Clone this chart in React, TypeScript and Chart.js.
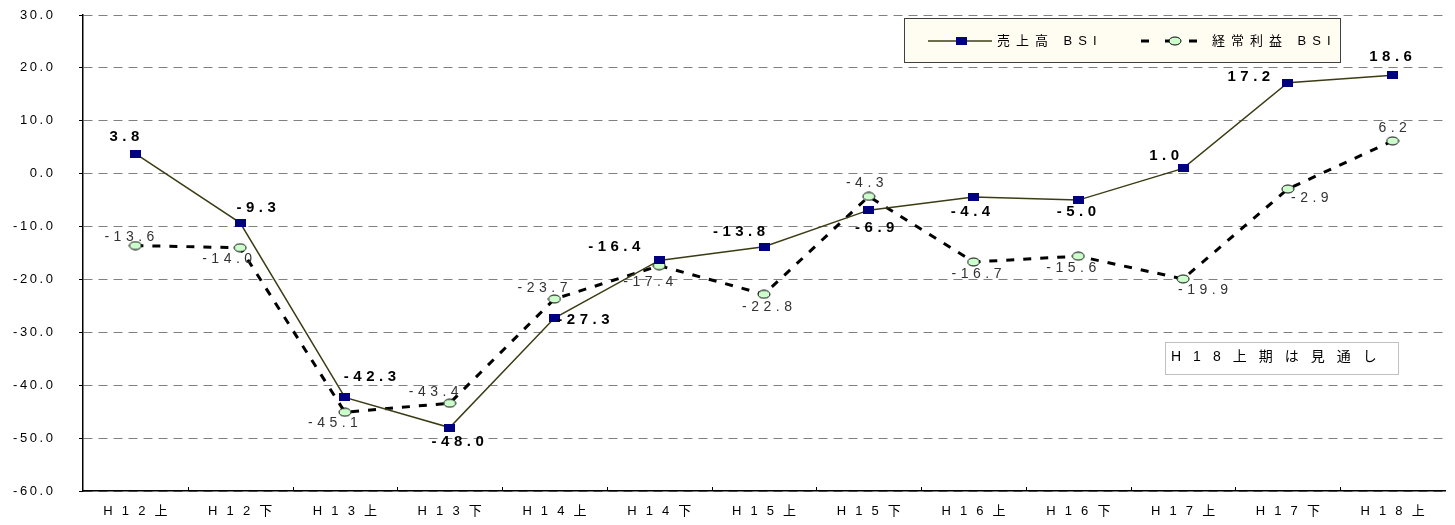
import React, { useEffect, useRef } from 'react';
import { Chart, registerables } from 'chart.js';

Chart.register(...registerables);

const categories = ['H12上', 'H12下', 'H13上', 'H13下', 'H14上', 'H14下', 'H15上', 'H15下', 'H16上', 'H16下', 'H17上', 'H17下', 'H18上'];
const salesBSI = [3.8, -9.3, -42.3, -48.0, -27.3, -16.4, -13.8, -6.9, -4.4, -5.0, 1.0, 17.2, 18.6];
const profitBSI = [-13.6, -14.0, -45.1, -43.4, -23.7, -17.4, -22.8, -4.3, -16.7, -15.6, -19.9, -2.9, 6.2];
const seriesNames = ['売上高 BSI', '経常利益 BSI'];
const noteText = 'H18上期は見通し';
const yMin = -60;
const yMax = 30;
const yStep = 10;

// label offsets from the point, in px (styling only)
const salesLabelOffsets = [[-11, -17], [16, -15], [25, -21], [8, 14], [29, 2], [-45, -14], [-25, -15], [6, 18], [-3, 15], [-2, 12], [-19, -13], [-39, -6], [-2, -18]];
const profitLabelOffsets = [[-6, -8], [-13, 11], [-12, 11], [-16, -11], [-12, -11], [-11, 16], [3, 13], [-4, -13], [3, 12], [-7, 12], [20, 11], [22, 9], [0, -13]];

const FONT = "'Liberation Sans', Arial, 'Noto Sans CJK JP', sans-serif";

function spaced(s: string, sep: string) {
  return Array.from(s).join(sep);
}

function makeSquare() {
  const c = document.createElement('canvas');
  c.width = 11;
  c.height = 8;
  const x = c.getContext('2d')!;
  x.fillStyle = '#000080';
  x.fillRect(0, 0, 11, 8);
  return c;
}

function makeEllipse() {
  const c = document.createElement('canvas');
  c.width = 14;
  c.height = 10;
  const x = c.getContext('2d')!;
  x.fillStyle = '#CCFFCC';
  x.strokeStyle = '#000000';
  x.lineWidth = 1;
  x.beginPath();
  x.ellipse(7, 5, 6, 4, 0, 0, Math.PI * 2);
  x.fill();
  x.stroke();
  return c;
}

export default function App() {
  const ref = useRef<HTMLCanvasElement | null>(null);

  useEffect(() => {
    if (!ref.current) return;
    const square = makeSquare();
    const ellipse = makeEllipse();

    const labelPlugin = {
      id: 'valueLabels',
      afterDatasetsDraw(chart: any) {
        const ctx = chart.ctx as CanvasRenderingContext2D;
        const draw = (dsIndex: number, values: number[], offsets: number[][], font: string, color: string, sp: number) => {
          const meta = chart.getDatasetMeta(dsIndex);
          meta.data.forEach((pt: any, i: number) => {
            ctx.save();
            ctx.font = font;
            ctx.fillStyle = color;
            (ctx as any).letterSpacing = sp + 'px';
            ctx.textAlign = 'center';
            ctx.textBaseline = 'middle';
            ctx.fillText(values[i].toFixed(1), pt.x + offsets[i][0] + sp / 2, pt.y + offsets[i][1]);
            ctx.restore();
          });
        };
        draw(1, profitBSI, profitLabelOffsets, `14px ${FONT}`, '#333333', 4.5);
        draw(0, salesBSI, salesLabelOffsets, `bold 15px ${FONT}`, '#000000', 4.5);
      },
      afterDraw(chart: any) {
        const ctx = chart.ctx as CanvasRenderingContext2D;
        const xs = chart.scales.x;
        const area = chart.chartArea;
        // inner tick marks on category axis
        ctx.save();
        ctx.strokeStyle = '#000';
        ctx.lineWidth = 1;
        for (let i = 1; i < categories.length; i++) {
          const px = Math.round((xs.getPixelForValue(i - 1) + xs.getPixelForValue(i)) / 2) + 0.5;
          ctx.beginPath();
          ctx.moveTo(px, area.bottom);
          ctx.lineTo(px, area.bottom - 4);
          ctx.stroke();
        }
        ctx.restore();

        // legend box
        ctx.save();
        ctx.fillStyle = '#FFFCF2';
        ctx.strokeStyle = '#404040';
        ctx.lineWidth = 1;
        ctx.fillRect(904.5, 18.5, 436, 44);
        ctx.strokeRect(904.5, 18.5, 436, 44);
        const ly = 41;
        // sales sample
        ctx.strokeStyle = '#3C3C14';
        ctx.lineWidth = 1.5;
        ctx.beginPath();
        ctx.moveTo(928, ly);
        ctx.lineTo(992, ly);
        ctx.stroke();
        ctx.drawImage(square, 956, ly - 4);
        // profit sample
        ctx.strokeStyle = '#000';
        ctx.lineWidth = 3;
        ctx.setLineDash([8, 16]);
        ctx.beginPath();
        ctx.moveTo(1141, ly);
        ctx.lineTo(1197, ly);
        ctx.stroke();
        ctx.setLineDash([]);
        ctx.drawImage(ellipse, 1168, ly - 5);
        ctx.font = `13px ${FONT}`;
        ctx.fillStyle = '#000';
        (ctx as any).letterSpacing = '6px';
        ctx.textAlign = 'left';
        ctx.textBaseline = 'middle';
        ctx.fillText(seriesNames[0], 997, ly);
        ctx.fillText(seriesNames[1], 1212, ly);
        ctx.restore();

        // note box
        ctx.save();
        ctx.fillStyle = '#FFFFFF';
        ctx.fillRect(1165.5, 342.5, 233, 32);
        ctx.strokeStyle = '#808080';
        ctx.lineWidth = 1;
        ctx.setLineDash([1, 1]);
        ctx.strokeRect(1165.5, 342.5, 233, 32);
        ctx.setLineDash([]);
        ctx.font = `14px ${FONT}`;
        ctx.fillStyle = '#000';
        (ctx as any).letterSpacing = '12px';
        ctx.textAlign = 'left';
        ctx.textBaseline = 'middle';
        ctx.fillText(noteText, 1171, 357);
        ctx.restore();
      },
    };

    const chart = new Chart(ref.current, {
      type: 'line',
      data: {
        labels: categories,
        datasets: [
          {
            label: seriesNames[0],
            data: salesBSI,
            borderColor: '#3C3C14',
            borderWidth: 1.5,
            pointStyle: square as any,
            pointRadius: 6,
            pointHoverRadius: 6,
            tension: 0,
            fill: false,
            order: 0,
          },
          {
            label: seriesNames[1],
            data: profitBSI,
            borderColor: '#000000',
            borderWidth: 3,
            borderDash: [8, 9],
            pointStyle: ellipse as any,
            pointRadius: 6,
            pointHoverRadius: 6,
            tension: 0,
            fill: false,
            order: 1,
          },
        ],
      },
      options: {
        responsive: false,
        animation: false,
        events: [],
        layout: { padding: { top: 15, right: 10, left: 0, bottom: 0 } },
        plugins: {
          legend: { display: false },
          tooltip: { enabled: false },
        },
        scales: {
          x: {
            offset: true,
            grid: { display: false },
            border: { display: true, color: '#000', width: 1.5 },
            ticks: {
              autoSkip: false,
              maxRotation: 0,
              padding: 5,
              color: '#000',
              font: { size: 13, family: FONT },
              callback: (_v: any, idx: number) => spaced(categories[idx], '\u2002\u2009'),
            },
            afterFit: (s: any) => {
              s.height = 34;
              s.paddingLeft = 0;
              s.paddingRight = 0;
            },
          },
          y: {
            min: yMin,
            max: yMax,
            border: { display: true, color: '#000', width: 1.5, dash: [9, 6] },
            grid: {
              color: '#808080',
              lineWidth: 1,
              drawTicks: true,
              tickLength: 4,
              tickColor: '#000',
            },
            ticks: {
              stepSize: yStep,
              padding: 26,
              color: '#000',
              font: { size: 13, family: FONT },
              callback: (v: any) => spaced(Number(v).toFixed(1), '\u2009'),
            },
            afterFit: (s: any) => {
              s.width = 83;
              s.paddingTop = 0;
              s.paddingBottom = 0;
            },
          },
        },
      },
      plugins: [labelPlugin],
    });
    return () => chart.destroy();
  }, []);

  return (
    <div style={{ position: 'absolute', left: 0, top: 0, width: 1455, height: 525, background: '#fff' }}>
      <canvas ref={ref} width={1455} height={525} />
    </div>
  );
}
